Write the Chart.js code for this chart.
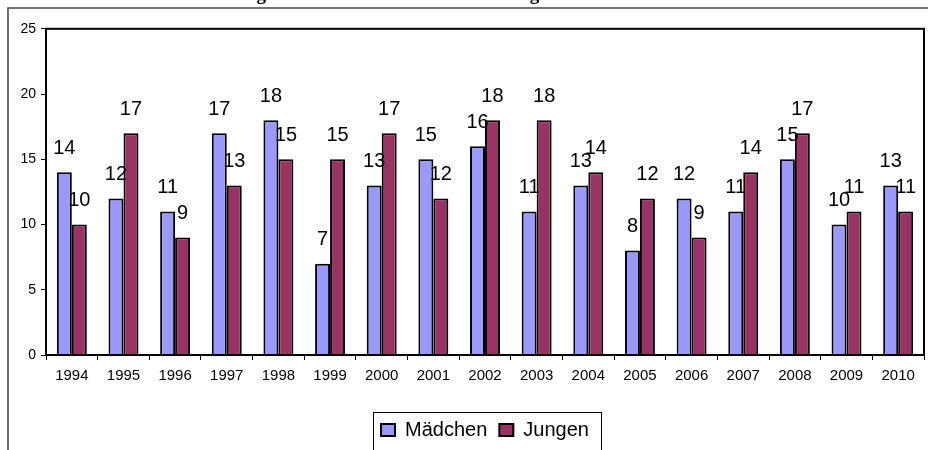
<!DOCTYPE html>
<html>
<head>
<meta charset="utf-8">
<script src="https://cdn.jsdelivr.net/npm/chart.js"></script>
<style>
  html, body { margin: 0; padding: 0; background: #fff; }
  #wrap { position: relative; width: 928px; height: 450px; overflow: hidden; }
  #chart { position: absolute; left: 0; top: -20px; }
</style>
</head>
<body>
<div id="wrap"><canvas id="chart" width="928" height="470"></canvas></div>
<script>
const years = ['1994', '1995', '1996', '1997', '1998', '1999', '2000', '2001', '2002',
               '2003', '2004', '2005', '2006', '2007', '2008', '2009', '2010'];
const maedchen = [14, 12, 11, 17, 18, 7, 13, 15, 16, 11, 13, 8, 12, 11, 15, 10, 13];
const jungen = [10, 17, 9, 13, 15, 15, 17, 12, 18, 18, 14, 12, 9, 14, 17, 11, 11];
const yMin = 0, yMax = 25, yStep = 5;
const titleText = 'Entwicklung der Geburtenzahlen \u2013 Aufteilung nach M\u00e4dchen und Knaben';

Chart.defaults.font.family = '"Liberation Sans", Arial, sans-serif';
Chart.defaults.color = '#000';

// outer frame, plot box and legend box (excel style)
const frames = {
    id: 'frames',
    beforeDraw(chart) {
        const ctx = chart.ctx;
        ctx.save();
        ctx.strokeStyle = '#444';
        ctx.lineWidth = 1.5;
        ctx.strokeRect(8, 28, chart.width + 20, chart.height);
        ctx.restore();
    },
    afterDraw(chart) {
        const ctx = chart.ctx;
        const a = chart.chartArea;
        ctx.save();
        ctx.strokeStyle = '#000';
        ctx.lineWidth = 2;
        ctx.strokeRect(a.left, a.top, a.right - a.left, a.bottom - a.top);
        const hb = chart.legend.legendHitBoxes;
        if (hb && hb.length) {
            const first = hb[0], last = hb[hb.length - 1];
            const x0 = Math.round(first.left - 8) + 0.5;
            const x1 = Math.round(last.left + last.width + 12) + 0.5;
            ctx.lineWidth = 1;
            ctx.strokeRect(x0, Math.round(first.top - 8) + 0.5, x1 - x0, 100);
        }
        ctx.restore();
    }
};

// value labels above bars
const valueLabels = {
    id: 'valueLabels',
    afterDatasetsDraw(chart) {
        const ctx = chart.ctx;
        ctx.save();
        ctx.font = '20px "Liberation Sans", Arial, sans-serif';
        ctx.fillStyle = '#000';
        ctx.textAlign = 'center';
        ctx.textBaseline = 'middle';
        chart.data.datasets.forEach((ds, i) => {
            chart.getDatasetMeta(i).data.forEach((bar, j) => {
                ctx.fillText(String(ds.data[j]), bar.x, bar.y - 24);
            });
        });
        ctx.restore();
    }
};

new Chart(document.getElementById('chart'), {
    type: 'bar',
    data: {
        labels: years,
        datasets: [
            {
                label: 'M\u00e4dchen',
                data: maedchen,
                backgroundColor: '#9999FF',
                borderColor: '#000',
                borderWidth: 2,
                categoryPercentage: 0.58,
                barPercentage: 1,
            },
            {
                label: 'Jungen',
                data: jungen,
                backgroundColor: '#993366',
                borderColor: '#000',
                borderWidth: 2,
                categoryPercentage: 0.58,
                barPercentage: 1,
            },
        ],
    },
    options: {
        responsive: false,
        animation: false,
        layout: { padding: { left: 8, right: 4, top: 0, bottom: 0 } },
        plugins: {
            title: {
                display: true,
                text: titleText,
                font: { family: '"Liberation Serif", "Times New Roman", serif', size: 19, weight: 'bold' },
                color: '#000',
                padding: { top: 4, bottom: 22 },
            },
            legend: {
                position: 'bottom',
                fullSize: false,
                labels: {
                    boxWidth: 14,
                    boxHeight: 12,
                    padding: 12,
                    font: { size: 20 },
                    color: '#000',
                },
            },
            tooltip: { enabled: false },
        },
        scales: {
            x: {
                afterFit(scale) { scale.height = 53; },
                grid: { offset: true, drawOnChartArea: false, tickLength: 5, color: '#000' },
                border: { color: '#000', width: 2 },
                ticks: { font: { size: 15 }, padding: 7, maxRotation: 0 },
            },
            y: {
                min: yMin,
                max: yMax,
                afterFit(scale) { scale.width = 38; },
                grid: { drawOnChartArea: false, tickLength: 5, color: '#000' },
                border: { color: '#000', width: 2 },
                ticks: { stepSize: yStep, font: { size: 14 }, padding: 5 },
            },
        },
    },
    plugins: [frames, valueLabels],
});
</script>
</body>
</html>
